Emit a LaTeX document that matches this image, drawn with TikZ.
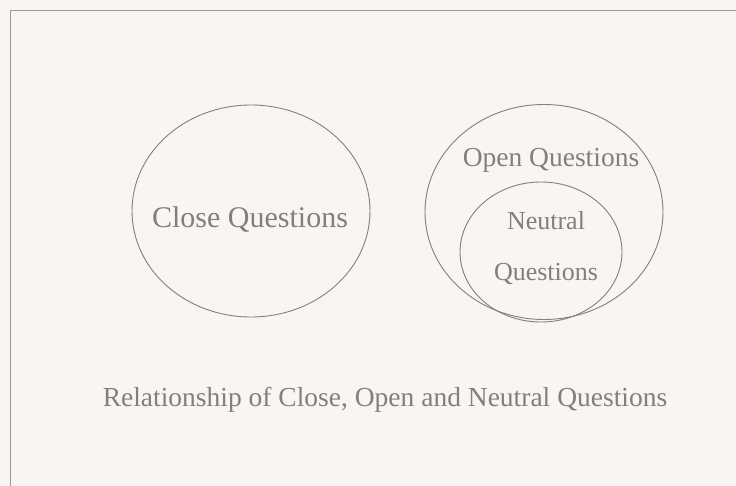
\documentclass[tikz,border=0pt]{standalone}
\usepackage{fontspec}
\setmainfont{Liberation Serif}
\usepackage{tikz}
\usetikzlibrary{shapes.geometric,positioning}
\usepackage{xcolor}
\definecolor{paper}{HTML}{F8F5F2}
\definecolor{ink}{HTML}{808080}
\definecolor{rim}{HTML}{808080}

\begin{document}
\begin{tikzpicture}[
  x=1pt, y=-1pt,
  set/.style={draw=rim, ellipse, line width=0.9pt, inner sep=0pt},
  lbl/.style={text=ink, anchor=base, inner sep=0pt}
]
\useasboundingbox (0,0) rectangle (736,486);
\fill[paper] (0,0) rectangle (736,486);
\draw[rim!80, line width=1pt] (10,486) -- (10,11) -- (736,11);

\node[set, minimum width=238pt, minimum height=212pt] (close) at (251,211) {};
\node[set, minimum width=238pt, minimum height=215pt] (open) at (544,212) {};
\node[set, minimum width=162pt, minimum height=140pt] (neutral) at (541,252) {};

\node[lbl, font=\fontsize{30}{32}\selectfont] (closetxt) at (250,228) {Close Questions};
\node[lbl, font=\fontsize{27.5}{30}\selectfont] (opentxt) at (551,167) {Open Questions};
\node[lbl, font=\fontsize{26}{28}\selectfont] (neutxt) at (546,230) {Neutral};
\node[lbl, font=\fontsize{26}{28}\selectfont] (questxt) at (546,280) {Questions};

\node[lbl, font=\fontsize{27.5}{30}\selectfont] (caption) at (385,406)
  {Relationship of Close, Open and Neutral Questions};
\end{tikzpicture}
\end{document}
